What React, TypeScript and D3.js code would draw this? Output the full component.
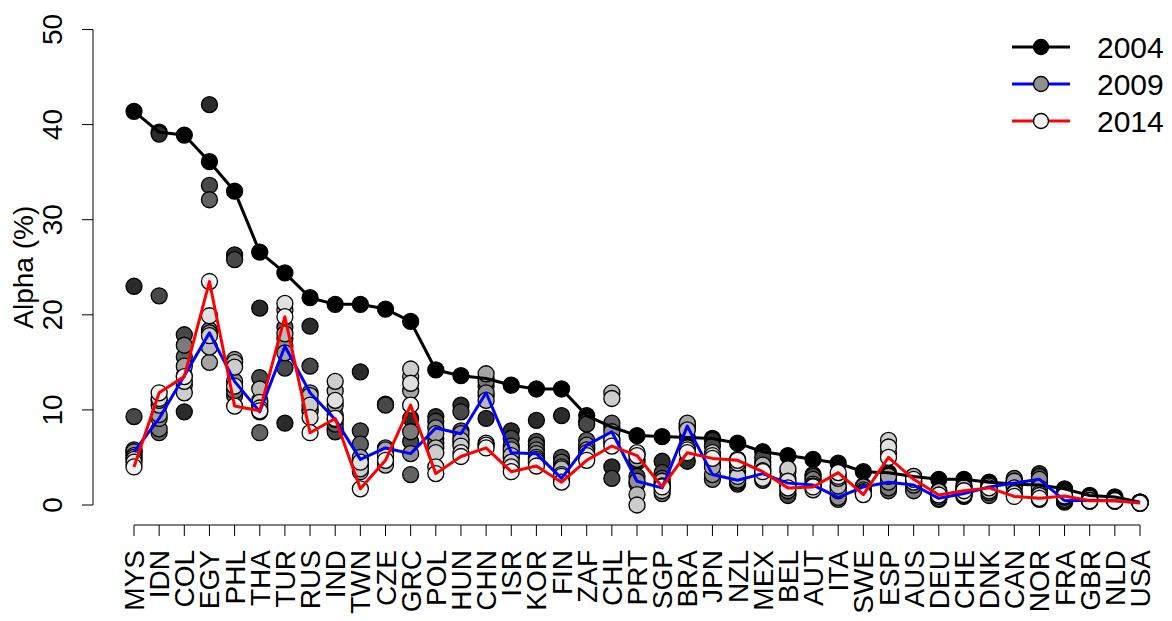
import React from "react";
import * as d3 from "d3";

const countries = ["MYS","IDN","COL","EGY","PHL","THA","TUR","RUS","IND","TWN","CZE","GRC","POL","HUN","CHN","ISR","KOR","FIN","ZAF","CHL","PRT","SGP","BRA","JPN","NZL","MEX","BEL","AUT","ITA","SWE","ESP","AUS","DEU","CHE","DNK","CAN","NOR","FRA","GBR","NLD","USA"];

const y2004 = [41.4,39.2,38.9,36.1,33.0,26.6,24.4,21.8,21.1,21.1,20.6,19.3,14.2,13.6,13.3,12.6,12.2,12.2,9.4,8.2,7.3,7.2,7.1,7.0,6.5,5.6,5.2,4.8,4.4,3.5,3.4,3.0,2.7,2.7,2.4,2.2,2.1,1.7,1.0,0.85,0.3];
const y2005 = [23.0,39.0,9.8,42.1,26.3,20.7,8.6,18.8,8.0,14.0,10.6,9.1,9.3,10.5,9.1,7.8,8.9,9.4,8.8,4.0,4.5,4.6,4.6,6.8,4.8,4.5,1.2,3.2,2.5,2.0,2.8,2.2,1.5,2.0,2.2,2.0,3.3,1.2,0.8,0.7,0.3];
const y2006 = [9.3,22.0,17.9,33.6,25.8,13.4,14.4,14.6,7.7,7.8,10.5,6.7,8.8,9.8,11.5,7.0,6.7,5.0,8.5,2.8,3.0,3.4,8.5,6.2,2.2,5.0,1.0,3.0,1.8,1.7,2.0,1.8,1.0,1.2,1.5,2.6,3.0,0.8,0.6,0.6,0.3];
const y2007 = [5.5,7.6,15.6,32.1,11.5,7.6,18.7,11.0,8.5,6.4,5.5,3.2,7.0,7.8,12.5,6.2,6.3,4.5,6.8,8.6,2.2,2.8,8.2,4.5,2.4,3.0,2.0,2.5,1.2,1.5,1.5,2.5,0.8,0.9,1.0,2.8,2.5,0.4,0.5,0.5,0.25];
const y2008 = [5.8,8.0,16.8,18.4,12.0,10.5,17.5,10.0,9.5,4.2,4.5,7.7,6.5,7.0,13.0,5.0,5.8,4.0,6.0,7.0,5.3,1.2,8.0,2.7,3.5,2.6,1.5,2.7,0.6,1.2,1.8,1.5,0.6,1.0,1.3,2.3,1.5,0.3,0.4,0.4,0.2];
const y2009 = [5.6,9.1,13.6,18.1,13.0,9.8,16.7,11.8,9.0,4.8,6.0,5.4,8.1,7.5,11.8,5.5,5.4,2.8,6.3,7.7,2.5,1.8,8.3,3.2,2.6,3.3,2.3,2.1,0.8,1.9,2.4,2.1,0.7,1.2,1.9,2.3,2.7,0.45,0.5,0.45,0.25];
const y2010 = [5.2,9.5,14.6,15.0,15.3,11.0,16.0,9.8,10.5,5.0,5.8,12.0,7.5,6.5,13.8,5.8,5.0,3.5,5.8,6.5,4.8,2.2,8.6,4.0,4.0,3.8,2.8,1.9,1.5,1.6,3.0,2.8,1.2,1.6,2.1,2.5,1.8,0.6,0.6,0.5,0.3];
const y2011 = [5.0,10.5,12.6,16.6,15.0,12.2,18.0,11.5,12.0,3.5,4.2,13.5,6.0,6.8,11.0,5.2,4.8,3.8,5.5,11.8,1.1,2.5,7.9,5.0,4.5,4.2,3.5,2.2,2.0,1.4,5.5,3.0,1.4,1.8,2.0,1.8,1.2,0.8,0.7,0.6,0.25];
const y2012 = [4.8,11.0,11.8,17.8,14.5,10.8,20.5,10.5,13.0,3.8,5.0,14.3,5.5,6.2,6.5,4.5,4.4,3.2,5.0,11.2,0.0,1.5,6.0,5.5,3.0,3.6,3.8,1.6,2.8,1.3,6.8,2.6,1.0,1.3,1.6,1.3,1.0,1.0,0.5,0.5,0.2];
const y2013 = [4.5,11.2,13.0,19.9,12.5,10.2,21.2,9.2,11.0,4.5,5.2,12.8,4.0,5.5,6.3,4.0,4.6,3.0,5.2,6.8,5.5,2.0,5.8,5.2,4.4,2.8,2.5,2.0,3.0,1.2,6.1,2.4,0.9,1.1,1.5,1.2,0.6,0.9,0.4,0.4,0.2];
const y2014 = [4.0,11.8,13.5,23.5,10.4,9.9,19.8,7.6,9.1,1.7,4.7,10.5,3.3,5.1,6.0,3.5,4.1,2.4,4.7,6.2,5.2,1.9,5.5,4.9,4.7,3.5,1.8,1.9,3.4,1.1,5.0,2.7,1.05,1.5,1.8,0.9,0.7,0.95,0.45,0.45,0.2];

const years = [2004,2005,2006,2007,2008,2009,2010,2011,2012,2013,2014];
const series = [y2004,y2005,y2006,y2007,y2008,y2009,y2010,y2011,y2012,y2013,y2014];
const yTicks = [0,10,20,30,40,50];
const legendYears = ["2004","2009","2014"];
const lineColors = ["#000000","#0000ff","#ff0000"];
const lineSeries = [y2004,y2009,y2014];

const W = 1172, H = 621;
const FONT = "'Liberation Sans', Arial, Helvetica, sans-serif";

export default function App() {
  const x = d3.scaleLinear().domain([1, 41]).range([134, 1140]);
  const y = d3.scaleLinear().domain([0, 50]).range([505, 29.5]);
  const grayScale = (i: number) => {
    const t = i / 10;
    const v = Math.round(242 * Math.pow(t, 0.75));
    return d3.rgb(v, v, v).toString();
  };
  const line = d3.line<number>().x((_, i) => x(i + 1)).y((d) => y(d));
  const axisY = 525;
  const axisX = 93;
  return (
    <svg width={W} height={H} style={{ position: "absolute", left: 0, top: 0, background: "#fff" }} fontFamily={FONT}>
      {series.map((s, yi) => (
        <g key={years[yi]}>
          {s.map((v, ci) => (
            <circle key={ci} cx={x(ci + 1)} cy={y(v)} r={8} fill={grayScale(yi)} stroke="#000" strokeWidth={1.3} />
          ))}
        </g>
      ))}
      {lineSeries.map((s, li) => (
        <path key={li} d={line(s) || ""} fill="none" stroke={lineColors[li]} strokeWidth={3} strokeLinejoin="round" />
      ))}
      <line x1={x(1)} x2={x(41)} y1={axisY} y2={axisY} stroke="#000" strokeWidth={1} />
      {countries.map((c, i) => (
        <g key={c}>
          <line x1={x(i + 1)} x2={x(i + 1)} y1={axisY} y2={axisY + 11} stroke="#000" strokeWidth={1} />
          <text transform={`translate(${x(i + 1) + 10},550) rotate(-90)`} textAnchor="end" fontSize={28} fill="#000">{c}</text>
        </g>
      ))}
      <line x1={axisX} x2={axisX} y1={y(0)} y2={y(50)} stroke="#000" strokeWidth={1} />
      {yTicks.map((t) => (
        <g key={t}>
          <line x1={axisX - 11} x2={axisX} y1={y(t)} y2={y(t)} stroke="#000" strokeWidth={1} />
          <text transform={`translate(62,${y(t)}) rotate(-90)`} textAnchor="middle" fontSize={28} fill="#000">{t}</text>
        </g>
      ))}
      <text transform={`translate(33,${(y(0) + y(50)) / 2}) rotate(-90)`} textAnchor="middle" fontSize={28} fill="#000">Alpha (%)</text>
      {legendYears.map((ly, i) => {
        const cy = 47 + i * 37;
        return (
          <g key={ly}>
            <line x1={1012} x2={1070} y1={cy} y2={cy} stroke={lineColors[i]} strokeWidth={3} />
            <circle cx={1041} cy={cy} r={7.5} fill={grayScale(i * 5)} stroke="#000" strokeWidth={1.3} />
            <text x={1097} y={cy + 11} fontSize={30} fill="#000">{ly}</text>
          </g>
        );
      })}
    </svg>
  );
}
